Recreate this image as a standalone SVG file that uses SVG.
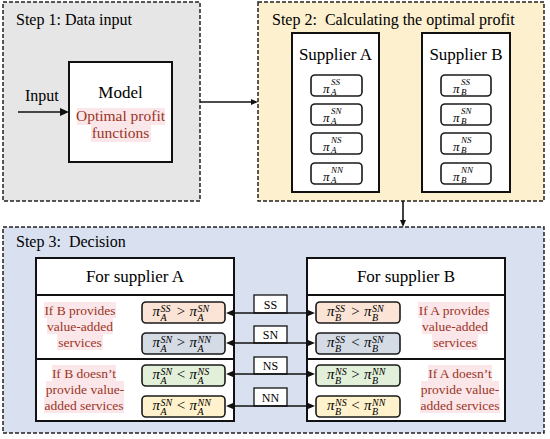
<svg xmlns="http://www.w3.org/2000/svg" width="550" height="439" viewBox="0 0 550 439">
<style>
text.f{font-family:"Liberation Serif","Times New Roman",serif}
.step{stroke:#222;stroke-width:1.5;stroke-dasharray:4 2}
.box{fill:#fff;stroke:#111;stroke-width:2}
.t16{font-size:16px}
.t17{font-size:17px}
.mid{text-anchor:middle}
.red{fill:#9a3526;font-size:13.5px;text-anchor:middle}
.hl{fill:#fbe6e9}
.fb{stroke:#1a1a1a;stroke-width:1.6}
.pi{font-style:italic;font-size:15px}
.sc{font-style:italic;font-size:10px}
.pis{font-style:italic;font-size:13px}
.scs{font-style:italic;font-size:9px}
.op{font-size:15px;text-anchor:middle}
.lab{font-size:12px;text-anchor:middle}
.con{stroke:#111;stroke-width:1.6;fill:none}
.head{fill:#111}
</style>

<g id="step1" font-family="Liberation Serif">
<rect class="step" x="3" y="2" width="197" height="199" fill="#e6e6e6"/>
<text class="f t16" x="16" y="25">Step 1: Data input</text>
<text class="f t16" x="25" y="101">Input</text>
</g>
<g id="model" font-family="Liberation Serif">
<rect class="box" x="69" y="62" width="103" height="100"/>
<text class="f t17 mid" x="120.5" y="98">Model</text>
<rect class="hl" x="77" y="108" width="88" height="17"/>
<rect class="hl" x="91" y="125" width="60" height="17"/>
<text class="f mid" x="120.5" y="121" style="font-size:15.5px;fill:#9a3526">Optimal profit</text>
<text class="f mid" x="120.5" y="138" style="font-size:15.5px;fill:#9a3526">functions</text>
</g>

<g id="step2" font-family="Liberation Serif">
<rect class="step" x="258" y="2" width="286" height="199" fill="#fdf0cf"/>
<text class="f t16" x="272" y="25" xml:space="preserve">Step 2:  Calculating the optimal profit</text>
</g>
<g id="supplierA" font-family="Liberation Serif">
<rect class="box" x="292" y="33" width="87" height="159"/>
<text class="f t17 mid" x="335.5" y="60">Supplier A</text>
<g fill="#fff" class="fb">
<rect x="311" y="75" width="51" height="21" rx="4"/>
<rect x="311" y="104" width="51" height="21" rx="4"/>
<rect x="311" y="133" width="51" height="21" rx="4"/>
<rect x="311" y="163" width="51" height="21" rx="4"/>
</g>
<text class="f pis" x="323" y="93">π</text><text class="f scs" x="331" y="85">SS</text><text class="f scs" x="331" y="95">A</text>
<text class="f pis" x="323" y="122">π</text><text class="f scs" x="331" y="114">SN</text><text class="f scs" x="331" y="124">A</text>
<text class="f pis" x="323" y="151">π</text><text class="f scs" x="331" y="143">NS</text><text class="f scs" x="331" y="153">A</text>
<text class="f pis" x="323" y="181">π</text><text class="f scs" x="331" y="173">NN</text><text class="f scs" x="331" y="183">A</text>
</g>
<g id="supplierB" font-family="Liberation Serif">
<rect class="box" x="422" y="33" width="88" height="159"/>
<text class="f t17 mid" x="466" y="60">Supplier B</text>
<g fill="#fff" class="fb">
<rect x="441" y="75" width="50" height="21" rx="4"/>
<rect x="441" y="104" width="50" height="21" rx="4"/>
<rect x="441" y="133" width="50" height="21" rx="4"/>
<rect x="441" y="163" width="50" height="21" rx="4"/>
</g>
<text class="f pis" x="453" y="93">π</text><text class="f scs" x="461" y="85">SS</text><text class="f scs" x="461" y="95">B</text>
<text class="f pis" x="453" y="122">π</text><text class="f scs" x="461" y="114">SN</text><text class="f scs" x="461" y="124">B</text>
<text class="f pis" x="453" y="151">π</text><text class="f scs" x="461" y="143">NS</text><text class="f scs" x="461" y="153">B</text>
<text class="f pis" x="453" y="181">π</text><text class="f scs" x="461" y="173">NN</text><text class="f scs" x="461" y="183">B</text>
</g>

<g id="step3" font-family="Liberation Serif">
<rect class="step" x="3" y="227" width="541" height="206" fill="#d9e1f1"/>
<text class="f t16" x="16" y="247" xml:space="preserve">Step 3:  Decision</text>
</g>

<g id="decisionA" font-family="Liberation Serif">
<rect class="box" x="36" y="258" width="198" height="163"/>
<line x1="36" y1="295" x2="234" y2="295" stroke="#111" stroke-width="1.8"/>
<line x1="36" y1="359" x2="234" y2="359" stroke="#111" stroke-width="1.8"/>
<text class="f t17 mid" x="135" y="282">For supplier A</text>
<g class="hl">
<rect x="44" y="302" width="72" height="16"/>
<rect x="47" y="318" width="66" height="16"/>
<rect x="57" y="334" width="46" height="16"/>
<rect x="52" y="365" width="64" height="16"/>
<rect x="46" y="381" width="78" height="16"/>
<rect x="44" y="397" width="80" height="16"/>
</g>
<text class="f red" x="80" y="315">If B provides</text>
<text class="f red" x="80" y="331">value-added</text>
<text class="f red" x="80" y="347">services</text>
<text class="f red" x="84" y="378">If B doesn’t</text>
<text class="f red" x="85" y="394">provide value-</text>
<text class="f red" x="84" y="410">added services</text>
<rect class="fb" x="142" y="302" width="83" height="21" rx="4" fill="#fbe4d5"/>
<rect class="fb" x="142" y="333" width="83" height="21" rx="4" fill="#d5dbe5"/>
<rect class="fb" x="142" y="365" width="83" height="21" rx="4" fill="#e2efd9"/>
<rect class="fb" x="142" y="396" width="83" height="21" rx="4" fill="#fff2cc"/>
<text class="f pi" x="152.5" y="316">π</text><text class="f sc" x="160.5" y="312">SS</text><text class="f sc" x="160.5" y="321">A</text>
<text class="f op" x="181" y="316">&gt;</text>
<text class="f pi" x="189.5" y="316">π</text><text class="f sc" x="197.5" y="312">SN</text><text class="f sc" x="197.5" y="321">A</text>
<text class="f pi" x="152.5" y="347">π</text><text class="f sc" x="160.5" y="343">SN</text><text class="f sc" x="160.5" y="352">A</text>
<text class="f op" x="181" y="347">&gt;</text>
<text class="f pi" x="189.5" y="347">π</text><text class="f sc" x="197.5" y="343">NN</text><text class="f sc" x="197.5" y="352">A</text>
<text class="f pi" x="152.5" y="379">π</text><text class="f sc" x="160.5" y="375">SN</text><text class="f sc" x="160.5" y="384">A</text>
<text class="f op" x="181" y="379">&lt;</text>
<text class="f pi" x="189.5" y="379">π</text><text class="f sc" x="197.5" y="375">NS</text><text class="f sc" x="197.5" y="384">A</text>
<text class="f pi" x="152.5" y="410">π</text><text class="f sc" x="160.5" y="406">SN</text><text class="f sc" x="160.5" y="415">A</text>
<text class="f op" x="181" y="410">&lt;</text>
<text class="f pi" x="189.5" y="410">π</text><text class="f sc" x="197.5" y="406">NN</text><text class="f sc" x="197.5" y="415">A</text>
</g>

<g id="decisionB" font-family="Liberation Serif">
<rect class="box" x="307" y="258" width="198" height="163"/>
<line x1="307" y1="295" x2="505" y2="295" stroke="#111" stroke-width="1.8"/>
<line x1="307" y1="359" x2="505" y2="359" stroke="#111" stroke-width="1.8"/>
<text class="f t17 mid" x="406" y="282">For supplier B</text>
<g class="hl">
<rect x="418" y="302" width="72" height="16"/>
<rect x="422" y="318" width="66" height="16"/>
<rect x="432" y="334" width="46" height="16"/>
<rect x="428" y="365" width="64" height="16"/>
<rect x="421" y="381" width="78" height="16"/>
<rect x="420" y="397" width="80" height="16"/>
</g>
<text class="f red" x="454" y="315">If A provides</text>
<text class="f red" x="455" y="331">value-added</text>
<text class="f red" x="455" y="347">services</text>
<text class="f red" x="460" y="378">If A doesn’t</text>
<text class="f red" x="460" y="394">provide value-</text>
<text class="f red" x="460" y="410">added services</text>
<rect class="fb" x="316" y="302" width="84" height="21" rx="4" fill="#fbe4d5"/>
<rect class="fb" x="316" y="333" width="84" height="21" rx="4" fill="#d5dbe5"/>
<rect class="fb" x="316" y="365" width="84" height="21" rx="4" fill="#e2efd9"/>
<rect class="fb" x="316" y="396" width="84" height="21" rx="4" fill="#fff2cc"/>
<text class="f pi" x="327" y="316">π</text><text class="f sc" x="335" y="312">SS</text><text class="f sc" x="335" y="321">B</text>
<text class="f op" x="355.5" y="316">&gt;</text>
<text class="f pi" x="364" y="316">π</text><text class="f sc" x="372" y="312">SN</text><text class="f sc" x="372" y="321">B</text>
<text class="f pi" x="327" y="347">π</text><text class="f sc" x="335" y="343">SS</text><text class="f sc" x="335" y="352">B</text>
<text class="f op" x="355.5" y="347">&lt;</text>
<text class="f pi" x="364" y="347">π</text><text class="f sc" x="372" y="343">SN</text><text class="f sc" x="372" y="352">B</text>
<text class="f pi" x="327" y="379">π</text><text class="f sc" x="335" y="375">NS</text><text class="f sc" x="335" y="384">B</text>
<text class="f op" x="355.5" y="379">&gt;</text>
<text class="f pi" x="364" y="379">π</text><text class="f sc" x="372" y="375">NN</text><text class="f sc" x="372" y="384">B</text>
<text class="f pi" x="327" y="410">π</text><text class="f sc" x="335" y="406">NS</text><text class="f sc" x="335" y="415">B</text>
<text class="f op" x="355.5" y="410">&lt;</text>
<text class="f pi" x="364" y="410">π</text><text class="f sc" x="372" y="406">NN</text><text class="f sc" x="372" y="415">B</text>
</g>

<g id="connectors" font-family="Liberation Serif">
<line class="con" x1="18" y1="112" x2="61" y2="112"/>
<path class="head" d="M69,112 L60,108 L60,116 Z"/>
<line class="con" x1="200" y1="102" x2="252" y2="102"/>
<path class="head" d="M258,102 L251,99 L251,105 Z"/>
<line class="con" x1="403" y1="201" x2="403" y2="221"/>
<path class="head" d="M403,227 L400,220 L406,220 Z"/>
<g fill="#fff" stroke="#111" stroke-width="1.3">
<rect x="254" y="295" width="33" height="18"/>
<rect x="254" y="326" width="33" height="17"/>
<rect x="254" y="357" width="33" height="17"/>
<rect x="254" y="388" width="33" height="18"/>
</g>
<line class="con" x1="231" y1="313" x2="310" y2="313"/>
<line class="con" x1="231" y1="343" x2="310" y2="343"/>
<line class="con" x1="231" y1="374" x2="310" y2="374"/>
<line class="con" x1="231" y1="406" x2="310" y2="406"/>
<path class="head" d="M226,313 L233,310 L233,316 Z M315,313 L308,310 L308,316 Z"/>
<path class="head" d="M226,343 L233,340 L233,346 Z M315,343 L308,340 L308,346 Z"/>
<path class="head" d="M226,374 L233,371 L233,377 Z M315,374 L308,371 L308,377 Z"/>
<path class="head" d="M226,406 L233,403 L233,409 Z M315,406 L308,403 L308,409 Z"/>
<text class="f lab" x="270.5" y="309">SS</text>
<text class="f lab" x="270.5" y="339">SN</text>
<text class="f lab" x="270.5" y="370">NS</text>
<text class="f lab" x="270.5" y="402">NN</text>
</g>
</svg>
